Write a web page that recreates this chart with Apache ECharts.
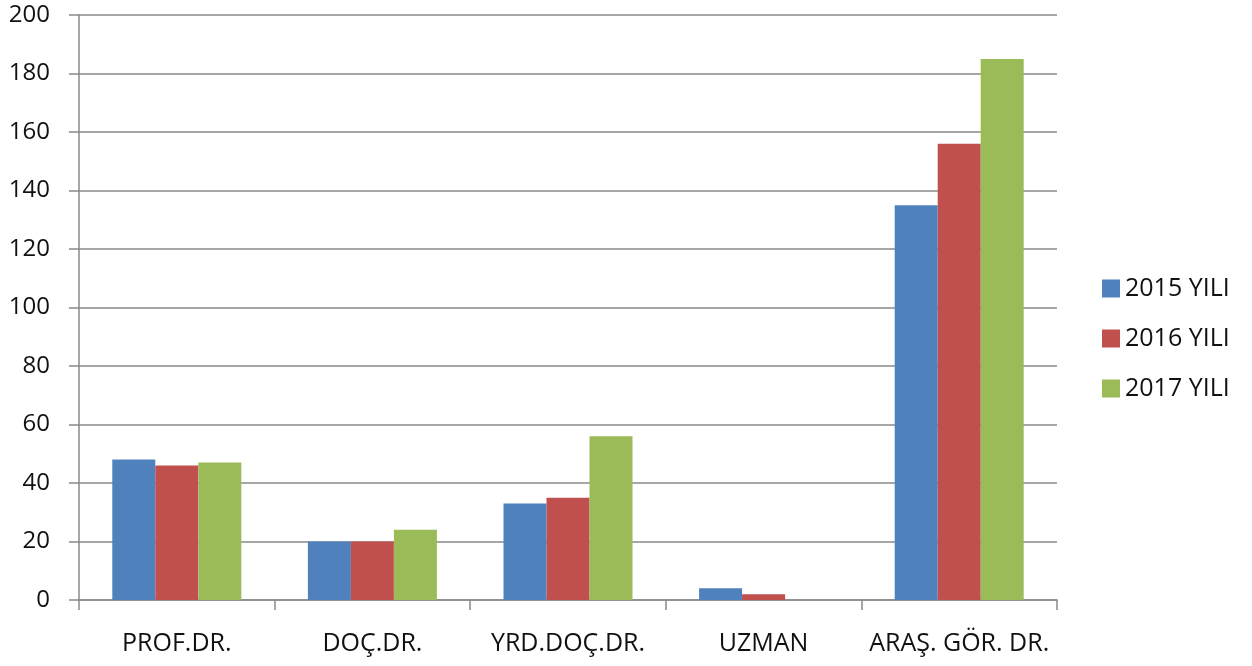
<!DOCTYPE html>
<html>
<head>
<meta charset="utf-8">
<script src="https://cdn.jsdelivr.net/npm/echarts@6/dist/echarts.min.js"></script>
<style>
  html, body { margin: 0; padding: 0; background: #fff; }
  #chart { width: 1252px; height: 666px; }
</style>
</head>
<body>
<div id="chart"></div>
<script>
// kadro unvanlari
var categories = ['PROF.DR.', 'DOÇ.DR.', 'YRD.DOÇ.DR.', 'UZMAN', 'ARAŞ. GÖR. DR.'];
var seriesNames = ['2015 YILI', '2016 YILI', '2017 YILI'];
var values2015 = [48, 20, 33, 4, 135];
var values2016 = [46, 20, 35, 2, 156];
var values2017 = [47, 24, 56, 0, 185];
var colors = ['#4F81BD', '#C0504D', '#9BBB59'];

var fontName = '"Open Sans", Lato, sans-serif';
var lineColor = '#8a8a8a';

var chart = echarts.init(document.getElementById('chart'));

var allValues = [values2015, values2016, values2017];
var series = [];
for (var i = 0; i < seriesNames.length; i++) {
    series.push({
        name: seriesNames[i],
        type: 'bar',
        data: allValues[i],
        barWidth: 43,
        barGap: '0%',
        itemStyle: { color: colors[i] }
    });
}

chart.setOption({
    animation: false,
    textStyle: { fontFamily: fontName },
    grid: { left: 79, right: 195, top: 15, bottom: 66, containLabel: false },
    legend: {
        orient: 'vertical',
        left: 1097,
        top: 271,
        itemWidth: 18,
        itemHeight: 18,
        itemGap: 25,
        icon: 'rect',
        textStyle: { fontSize: 25, color: '#111', fontFamily: fontName },
        data: seriesNames
    },
    xAxis: {
        type: 'category',
        data: categories,
        axisLine: { lineStyle: { color: lineColor, width: 1.5 } },
        axisTick: { show: true, length: 10, lineStyle: { color: lineColor, width: 1.5 } },
        axisLabel: { fontSize: 25, color: '#111', margin: 31, interval: 0 }
    },
    yAxis: {
        type: 'value',
        min: 0,
        max: 200,
        interval: 20,
        axisLine: { show: true, lineStyle: { color: lineColor, width: 1.5 } },
        axisTick: { show: true, length: 10, lineStyle: { color: lineColor, width: 1.5 } },
        splitLine: { lineStyle: { color: lineColor, width: 1.5 } },
        axisLabel: { fontSize: 24, color: '#111', margin: 29 }
    },
    series: series
});
</script>
</body>
</html>
